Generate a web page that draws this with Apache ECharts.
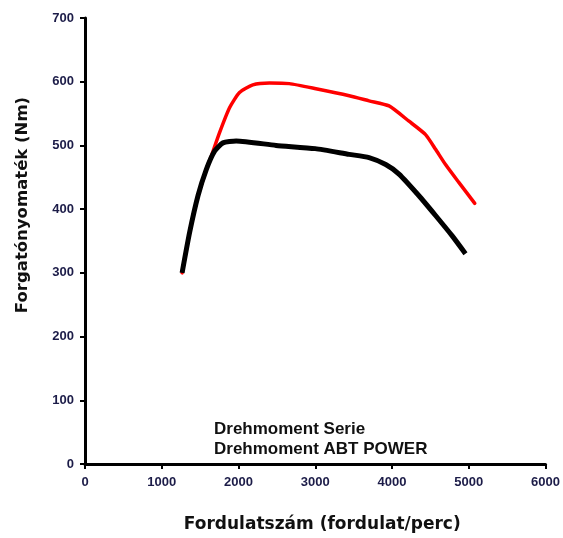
<!DOCTYPE html>
<html>
<head>
<meta charset="utf-8">
<script src="https://cdn.jsdelivr.net/npm/echarts@6/dist/echarts.min.js"></script>
<style>
html,body{margin:0;padding:0;background:#fff;}
#c{width:563px;height:538px;}
</style>
</head>
<body>
<div id="c"></div>
<script>
// Data
var xTicks = [0, 1000, 2000, 3000, 4000, 5000, 6000];
var yTicks = [0, 100, 200, 300, 400, 500, 600, 700];

var serieRpm    = [1265, 1364, 1472, 1580, 1688, 1797, 1970, 2489, 3000, 3442, 3701, 3918, 4091, 4351, 4567, 4784, 4957];
var serieTorque = [300,  364,  421,  462,  491,  504,  507,  500,  495,  486,  481,  470,  455,  421,  390,  358,  330];

var abtRpm    = [1265, 1364, 1472, 1580, 1645, 1753, 1883, 2013, 2186, 2403, 2662, 3009, 3442, 3701, 3961, 4221, 4437, 4567, 4697, 4870, 5078];
var abtTorque = [300,  364,  421,  462,  483,  520,  559,  583,  595,  598,  597,  589,  578,  570,  562,  538,  517,  494,  470,  442,  409];

var seriesNames = ['Drehmoment Serie', 'Drehmoment ABT POWER'];

function zip(a, b) { return a.map(function (v, i) { return [v, b[i]]; }); }

var tickFont = { fontFamily: 'Liberation Sans', fontWeight: 'bold', fontSize: 13, color: '#1c1c48' };
var titleFont = { fontFamily: 'DejaVu Sans', fontWeight: 'bold', fontSize: 17, color: '#111111' };

var chart = echarts.init(document.getElementById('c'), null, { renderer: 'canvas' });
chart.setOption({
  animation: false,
  backgroundColor: '#ffffff',
  grid: { left: 85, right: 16, top: 18, bottom: 72, containLabel: false },
  legend: {
    orient: 'vertical',
    left: 209,
    top: 419,
    padding: 0,
    itemWidth: 0,
    itemHeight: 0,
    itemGap: 0,
    icon: 'rect',
    data: seriesNames,
    textStyle: { fontFamily: 'Liberation Sans', fontWeight: 'bold', fontSize: 17, color: '#111111', lineHeight: 20 }
  },
  xAxis: {
    type: 'value',
    min: xTicks[0],
    max: xTicks[xTicks.length - 1],
    interval: 1000,
    name: 'Fordulatszám (fordulat/perc)',
    nameLocation: 'middle',
    nameGap: 52,
    nameTextStyle: Object.assign({}, titleFont, { padding: [0, 0, 0, 14] }),
    axisLine: { show: true, onZero: false, lineStyle: { color: '#000', width: 3 } },
    axisTick: { show: true, inside: false, length: 5, lineStyle: { color: '#000', width: 2 } },
    axisLabel: Object.assign({ margin: 12, formatter: function (v) { return String(v); } }, tickFont),
    splitLine: { show: false }
  },
  yAxis: {
    type: 'value',
    min: yTicks[0],
    max: yTicks[yTicks.length - 1],
    interval: 100,
    name: 'Forgatónyomaték (Nm)',
    nameLocation: 'middle',
    nameRotate: 90,
    nameGap: 54,
    nameTextStyle: Object.assign({}, titleFont, { fontSize: 16.5, padding: [0, 0, 0, 72] }),
    axisLine: { show: true, onZero: false, lineStyle: { color: '#000', width: 3 } },
    axisTick: { show: true, inside: false, length: 5, lineStyle: { color: '#000', width: 2 } },
    axisLabel: Object.assign({ margin: 11, formatter: function (v) { return String(v); } }, tickFont),
    splitLine: { show: false }
  },
  series: [
    {
      name: seriesNames[1],
      type: 'line',
      data: zip(abtRpm, abtTorque),
      smooth: 0.2,
      showSymbol: false,
      symbol: 'none',
      z: 2,
      itemStyle: { color: '#ff0000' },
      lineStyle: { color: '#ff0000', width: 3.5, cap: 'round', join: 'round' }
    },
    {
      name: seriesNames[0],
      type: 'line',
      data: zip(serieRpm, serieTorque),
      smooth: 0.2,
      showSymbol: false,
      symbol: 'none',
      z: 3,
      itemStyle: { color: '#000000' },
      lineStyle: { color: '#000000', width: 5, cap: 'butt', join: 'round' }
    }
  ]
});
</script>
</body>
</html>
